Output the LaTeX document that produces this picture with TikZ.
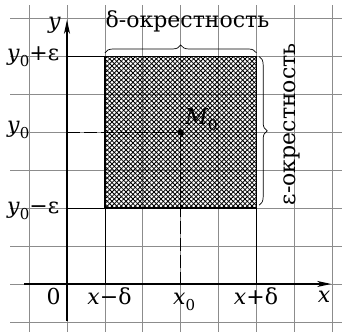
\documentclass[tikz,border=0pt]{standalone}
\usepackage{fontspec}
\setmainfont{DejaVu Serif}
\usetikzlibrary{arrows.meta,decorations.pathreplacing,patterns.meta}
\newcommand\myz{\raisebox{-6bp}{\fontsize{15bp}{15bp}\selectfont 0}}
\newcommand\myit[1]{\textit{#1}}
\begin{document}
\begin{tikzpicture}[x=37.9bp,y=37.9bp,
  gridline/.style={draw=black!45,line width=0.7bp},
  axisline/.style={draw=black,line width=1.3bp,-{Stealth[length=14bp,width=6bp,inset=4bp]}},
  thinline/.style={draw=black,line width=0.8bp},
  dashline/.style={draw=black,line width=0.9bp,dash pattern=on 13bp off 4bp},
  boxline/.style={draw=black,line width=1.7bp},
  bracestyle/.style={draw=black,line width=0.7bp,decorate,decoration={brace,amplitude=8bp}},
  lbl/.style={font=\fontsize{22bp}{25bp}\selectfont,inner sep=0pt,outer sep=0pt},
  dot/.style={circle,fill=black,inner sep=0pt,minimum size=6.5bp}]
\useasboundingbox (-1.768,-1.266) rectangle (7.256,7.493);
% grid
\foreach \v in {-1,...,7} \draw[gridline] (-1.5,\v) -- (7.256,\v);
\foreach \u in {-1,...,7} \draw[gridline] (\u,-1.266) -- (\u,7.36);
% corners
\coordinate (A) at (1,2);
\coordinate (B) at (5,2);
\coordinate (C) at (5,6);
\coordinate (D) at (1,6);
\coordinate (Y0) at (0,4);
\coordinate (YP) at (0,6);
\coordinate (YM) at (0,2);
\coordinate (XM) at (1,0);
\coordinate (XP) at (5,0);
\coordinate (X0) at (3,0);
\coordinate (xs) at (-1.13,0);
\coordinate (xe) at (6.97,0);
\coordinate (ys) at (0,-0.98);
\coordinate (ye) at (0,6.97);
% hatching
\fill[pattern={Lines[angle=45,distance=3.3bp,line width=0.85bp]}] (A) rectangle (C);
\fill[pattern={Lines[angle=-45,distance=3.3bp,line width=0.85bp]}] (A) rectangle (C);
% helper lines
\draw[thinline] (YP) -- (D);
\draw[thinline] (YM) -- (A);
\draw[thinline] (A) -- (XM);
\draw[thinline] (B) -- (XP);
\node[dot] (M) at (3,4) {};
\draw[dashline] (Y0) -- (M);
\draw[dashline] (M) -- (X0);
% box
\draw[boxline] (A) -- (B) -- (C) -- (D) -- cycle;
% axes
\draw[axisline] (xs) -- (xe);
\draw[axisline] (ys) -- (ye);
% braces
\coordinate (bt1) at (1,6.095);
\coordinate (bt2) at (5,6.095);
\draw[bracestyle] (bt1) -- (bt2);
\coordinate (br1) at (5.07,6.0);
\coordinate (br2) at (5.07,2.08);
\draw[bracestyle] (br1) -- (br2);
% labels
\node[lbl,anchor=base] (dlab) at (3.18,6.78) {δ-окрестность};
\node[lbl,anchor=base,rotate=90] (elab) at (6.016,4.216) {ε-окрестность};
\node[lbl,anchor=base] (ylab) at (-0.33,6.73) {\myit{y}};
\node[lbl,anchor=base west] (ypl) at (-1.58,5.884) {\myit{y}\myz+ε};
\node[lbl,anchor=base west] (y0l) at (-1.58,3.984) {\myit{y}\myz};
\node[lbl,anchor=base west] (yml) at (-1.58,1.847) {\myit{y}\myz−ε};
\node[lbl,anchor=base] (zl) at (-0.356,-0.554) {0};
\node[lbl,anchor=base] (xml) at (1.121,-0.554) {\myit{x}−δ};
\node[lbl,anchor=base west] (x0l) at (2.80,-0.554) {\myit{x}\myz};
\node[lbl,anchor=base] (xpl) at (4.987,-0.554) {\myit{x}+δ};
\node[lbl,anchor=base] (xl) at (6.781,-0.5) {\myit{x}};
\node[lbl,anchor=base west] (ml) at (3.12,4.195) {\myit{M}\myz};
\end{tikzpicture}
\end{document}
